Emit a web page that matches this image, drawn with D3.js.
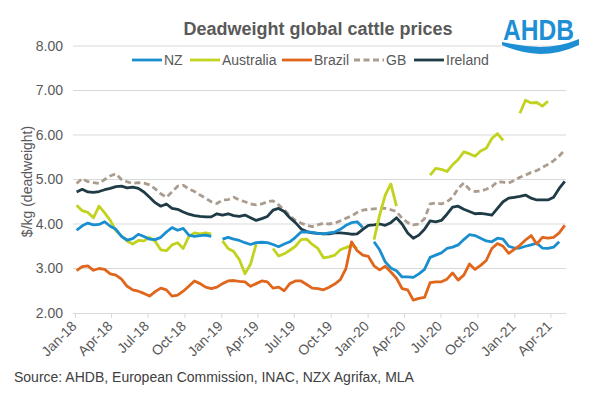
<!DOCTYPE html>
<html>
<head>
<meta charset="utf-8">
<script src="https://cdn.jsdelivr.net/npm/d3@7"></script>
<style>
  html, body { margin: 0; padding: 0; background: #fff; }
  svg { display: block; font-family: "Liberation Sans", Arial, sans-serif; }
</style>
</head>
<body>
<svg id="chart" width="597" height="393"></svg>
<script>
// ---------------- DATA ----------------
// Fortnightly observations starting 5 Jan 2018 (null = no data)
const startDate = "2018-01-05";
const stepDays = 14;

const seriesNames = ["NZ", "Australia", "Brazil", "GB", "Ireland"];

const nz = [3.86,3.96,4.02,3.98,3.99,4.05,3.95,3.88,3.72,3.64,3.67,3.77,3.72,3.66,3.65,3.70,3.82,3.92,3.86,3.90,
  3.75,3.72,3.74,3.75,3.72,null,3.66,3.70,3.66,3.63,3.58,3.54,3.58,3.59,3.58,3.54,3.49,3.55,3.60,3.70,
  3.82,3.82,3.81,3.79,3.78,3.80,3.82,3.88,3.97,4.03,4.05,3.92,null,3.60,3.42,3.15,3.01,2.95,2.81,2.81,
  2.80,2.88,2.98,3.25,3.30,3.35,3.45,3.48,3.53,3.65,3.76,3.74,3.68,3.62,3.60,3.68,3.66,3.50,3.46,3.46,
  3.50,3.53,3.57,3.46,3.45,3.48,3.60,null];

const australia = [4.42,4.30,4.26,4.14,4.40,4.25,4.08,3.85,3.73,3.62,3.55,3.63,3.62,3.70,3.61,3.42,3.40,3.53,3.58,3.45,
  3.72,3.80,3.78,3.80,3.77,null,3.62,3.45,3.38,3.20,2.88,3.10,3.55,null,null,3.45,3.28,3.33,3.41,3.50,
  3.65,3.66,3.54,3.45,3.24,3.26,3.30,3.42,3.47,3.52,3.45,null,null,3.65,4.20,4.65,4.90,4.40,null,null,
  null,null,null,5.10,5.25,5.23,5.18,5.33,5.45,5.62,5.58,5.52,5.64,5.70,5.92,6.03,5.88,null,null,6.49,
  6.78,6.72,6.73,6.65,6.76,null,null,null];

const brazil = [2.95,3.04,3.06,2.96,3.00,2.98,2.88,2.85,2.76,2.60,2.52,2.49,2.44,2.38,2.48,2.56,2.52,2.38,2.40,2.49,
  2.60,2.72,2.66,2.58,2.55,2.58,2.66,2.72,2.73,2.71,2.70,2.60,2.66,2.72,2.70,2.56,2.58,2.50,2.66,2.72,
  2.72,2.64,2.56,2.55,2.52,2.58,2.65,2.75,3.00,3.60,3.40,3.30,3.27,3.06,2.97,3.05,2.92,2.78,2.55,2.52,
  2.29,2.33,2.35,2.68,2.70,2.70,2.76,2.90,2.74,2.85,3.10,2.98,3.07,3.18,3.45,3.56,3.50,3.34,3.43,3.52,
  3.64,3.74,3.55,3.70,3.68,3.70,3.80,3.97];

const gb = [4.91,5.02,4.95,4.93,4.91,5.00,5.08,5.13,5.00,4.95,4.91,4.93,4.92,4.88,4.79,4.68,4.60,4.72,4.85,4.87,
  4.79,4.73,4.65,4.58,4.50,4.46,4.54,4.55,4.60,4.54,4.50,4.45,4.43,4.45,4.50,4.52,4.43,4.32,4.18,4.08,
  4.02,3.97,3.94,3.98,4.02,4.00,4.02,4.07,4.13,4.18,4.26,4.31,4.33,4.34,4.35,4.35,4.32,4.28,4.13,4.03,
  3.98,4.00,4.12,4.45,4.47,4.45,4.50,4.60,4.80,4.92,4.78,4.73,4.74,4.78,4.84,4.95,4.94,4.92,4.98,5.05,
  5.10,5.16,5.20,5.27,5.34,5.42,5.53,5.66];

const ireland = [4.72,4.78,4.72,4.71,4.73,4.77,4.80,4.84,4.85,4.81,4.83,4.80,4.72,4.60,4.48,4.40,4.45,4.35,4.33,4.27,
  4.22,4.19,4.17,4.16,4.16,4.23,4.20,4.23,4.19,4.17,4.20,4.14,4.08,4.12,4.17,4.31,4.35,4.28,4.14,4.03,
  3.89,3.83,3.80,3.79,3.78,3.78,3.80,3.80,3.79,3.77,3.78,3.88,3.97,3.98,4.00,3.97,4.03,4.14,4.00,3.80,
  3.68,3.75,3.88,4.07,4.05,4.08,4.22,4.38,4.40,4.33,4.28,4.23,4.24,4.22,4.20,4.35,4.50,4.58,4.60,4.62,
  4.65,4.58,4.54,4.54,4.54,4.60,4.80,4.96];

const xTickLabels = ["Jan-18","Apr-18","Jul-18","Oct-18","Jan-19","Apr-19","Jul-19","Oct-19",
  "Jan-20","Apr-20","Jul-20","Oct-20","Jan-21","Apr-21"];
const yTicks = [2, 3, 4, 5, 6, 7, 8];

const titleText = "Deadweight global cattle prices";
const yAxisTitle = "$/kg (deadweight)";
const sourceText = "Source: AHDB, European Commission, INAC, NZX Agrifax, MLA";

// ---------------- STYLE ----------------
const colors = { NZ: "#1a8fd0", Australia: "#c1d21f", Brazil: "#e0661c", GB: "#aa9c8f", Ireland: "#1e3b46" };
const dashes = { GB: "6,3.5" };
const values = { NZ: nz, Australia: australia, Brazil: brazil, GB: gb, Ireland: ireland };
const drawOrder = ["GB", "Ireland", "Australia", "NZ", "Brazil"];

const svg = d3.select("#chart");
const plot = { left: 73, right: 566, top: 46, bottom: 313 };

const parse = d3.timeParse("%Y-%m-%d");
const start = parse(startDate);
const dates = nz.map((_, i) => d3.timeDay.offset(start, i * stepDays));

const x = d3.scaleTime()
  .domain([parse("2017-12-27"), parse("2021-05-10")])
  .range([plot.left, plot.right]);
const y = d3.scaleLinear().domain([2, 8]).range([plot.bottom, plot.top]);

const textColor = "#595959";
const gridColor = "#d9d9d9";

// gridlines
svg.append("g")
  .selectAll("line")
  .data(yTicks.filter(d => d > 2))
  .join("line")
  .attr("x1", plot.left).attr("x2", plot.right)
  .attr("y1", d => y(d)).attr("y2", d => y(d))
  .attr("stroke", gridColor).attr("stroke-width", 1);

// y tick labels
svg.append("g")
  .selectAll("text")
  .data(yTicks)
  .join("text")
  .attr("x", plot.left - 10)
  .attr("y", d => y(d))
  .attr("dy", "0.35em")
  .attr("text-anchor", "end")
  .attr("font-size", 14)
  .attr("fill", textColor)
  .text(d => d3.format(".2f")(d));

// x axis
const tickParse = d3.timeParse("%b-%y");
const tickDates = xTickLabels.map(t => tickParse(t));
const xAxis = d3.axisBottom(x)
  .tickValues(tickDates)
  .tickSize(5)
  .tickFormat((d, i) => xTickLabels[i]);
const gx = svg.append("g")
  .attr("transform", `translate(0,${y(2)})`)
  .call(xAxis);
gx.select(".domain").attr("stroke", gridColor).attr("d", `M${plot.left},0.5H${plot.right}`);
gx.selectAll(".tick line").attr("stroke", gridColor);
gx.selectAll(".tick text")
  .attr("font-family", "Liberation Sans, Arial, sans-serif")
  .attr("font-size", 14)
  .attr("fill", textColor)
  .attr("text-anchor", "end")
  .attr("dy", null)
  .attr("y", 0)
  .attr("transform", "translate(2,14) rotate(-45)");

// lines
const line = d3.line()
  .defined(d => d.v != null)
  .x(d => x(d.date))
  .y(d => y(d.v));

drawOrder.forEach(name => {
  const data = values[name].map((v, i) => ({ date: dates[i], v }));
  svg.append("path")
    .datum(data)
    .attr("fill", "none")
    .attr("stroke", colors[name])
    .attr("stroke-width", 2.8)
    .attr("stroke-linejoin", "round")
    .attr("stroke-dasharray", dashes[name] || null)
    .attr("d", line);
});

// title
svg.append("text")
  .attr("x", 318).attr("y", 35)
  .attr("text-anchor", "middle")
  .attr("font-size", 18)
  .attr("font-weight", "bold")
  .attr("fill", textColor)
  .text(titleText);

// legend
const legendX = [132, 190, 282, 354, 414];
const lg = svg.append("g");
seriesNames.forEach((name, i) => {
  const gx0 = legendX[i];
  lg.append("line")
    .attr("x1", gx0).attr("x2", gx0 + 30)
    .attr("y1", 60).attr("y2", 60)
    .attr("stroke", colors[name]).attr("stroke-width", 2.8)
    .attr("stroke-dasharray", dashes[name] || null);
  lg.append("text")
    .attr("x", gx0 + 32).attr("y", 60).attr("dy", "0.35em")
    .attr("font-size", 14).attr("fill", textColor)
    .text(name);
});

// y axis title
svg.append("text")
  .attr("transform", `translate(32,${(plot.top + plot.bottom) / 2 + 2}) rotate(-90)`)
  .attr("text-anchor", "middle")
  .attr("font-size", 14)
  .attr("fill", textColor)
  .text(yAxisTitle);

// source
svg.append("text")
  .attr("x", 14).attr("y", 382)
  .attr("font-size", 14)
  .attr("fill", "#404040")
  .text(sourceText);

// AHDB logo
const logoColor = "#1f8fd5";
const logo = svg.append("g");
logo.append("text")
  .attr("transform", "translate(503,40) scale(0.82,1)")
  .attr("font-size", 30).attr("font-weight", "bold")
  .attr("fill", logoColor)
  .text("AHDB");
logo.append("path")
  .attr("d", "M502,42 Q520,46 540,47 Q560,47 579,39 L579,45 Q560,54 540,54 Q520,53 502,45 Z")
  .attr("fill", logoColor);
</script>
</body>
</html>
